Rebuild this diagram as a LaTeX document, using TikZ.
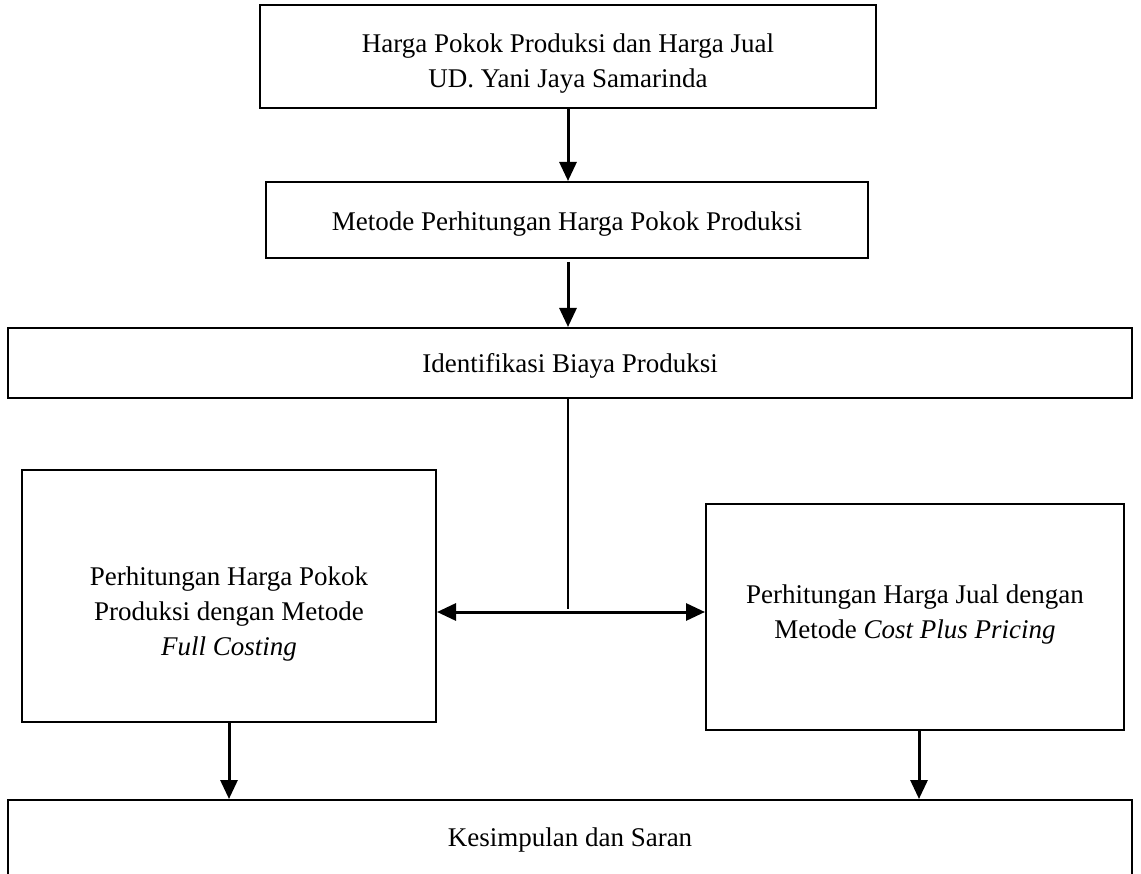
\documentclass[tikz,border=0pt]{standalone}
\usepackage{fontspec}
\setmainfont{Liberation Serif}
\usetikzlibrary{arrows.meta}
\begin{document}
\begin{tikzpicture}[x=1pt,y=-1pt,
  box/.style={draw=black,line width=2pt,inner sep=0pt},
  txt/.style={inner sep=0pt,align=center,font=\fontsize{27}{35}\selectfont},
  arr/.style={line width=3pt,-{Triangle[length=19pt,width=17pt]}},
  darr/.style={line width=3pt,{Triangle[length=19pt,width=17pt]}-{Triangle[length=19pt,width=17pt]}},
  thin/.style={line width=1.6pt}]
\useasboundingbox (0,0) rectangle (1141,874);
\node[box,minimum width=616pt,minimum height=103pt] (top) at (568,56.5) {};
\node[txt] (topt) at (568,64) {Harga Pokok Produksi dan Harga Jual\\UD. Yani Jaya Samarinda};
\node[box,minimum width=602pt,minimum height=76pt] (m2) at (567,220) {};
\node[txt] (m2t) at (567,224) {Metode Perhitungan Harga Pokok Produksi};
\node[box,minimum width=1124pt,minimum height=70pt] (id) at (570,363) {};
\node[txt] (idt) at (570,366) {Identifikasi Biaya Produksi};
\node[box,minimum width=414pt,minimum height=252pt] (fc) at (229,596) {};
\node[txt] (fct) at (229,614) {Perhitungan Harga Pokok\\Produksi dengan Metode\\\textit{Full Costing}};
\node[box,minimum width=418pt,minimum height=226pt] (cp) at (915,617) {};
\node[txt] (cpt) at (915,615) {Perhitungan Harga Jual dengan\\Metode \textit{Cost Plus Pricing}};
\node[box,minimum width=1124pt,minimum height=150pt] (ks) at (570,875) {};
\node[txt] (kst) at (570,840) {Kesimpulan dan Saran};
\coordinate (j) at (568,609);
\draw[arr] (top.south -| 568,0) -- (m2.north -| 568,0);
\draw[arr] ([yshift=-3pt]m2.south -| 568,0) -- (id.north -| 568,0);
\draw[thin] (id.south -| j) -- (j);
\draw[darr] (fc.east |- 0,612) -- (cp.west |- 0,612);
\draw[arr] (fc.south) -- (ks.north -| fc.south);
\draw[arr] (cp.south -| 919,0) -- (ks.north -| 919,0);
\end{tikzpicture}
\end{document}
